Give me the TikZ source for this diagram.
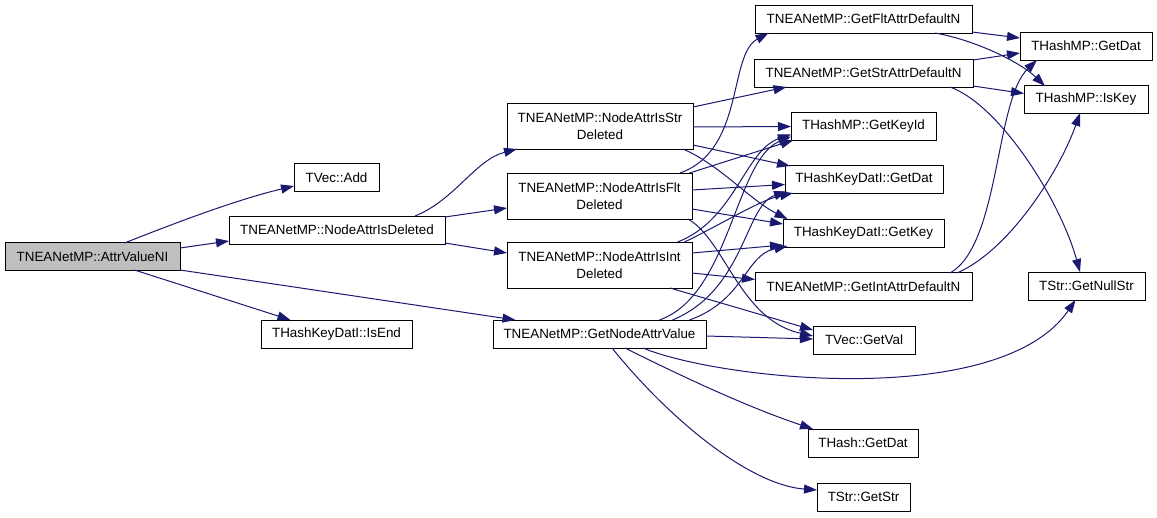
\documentclass[tikz,border=0pt]{standalone}
\usepackage{fontspec}
\setmainfont{Liberation Sans}
\usetikzlibrary{arrows.meta}
\definecolor{edgec}{HTML}{191970}
\definecolor{hl}{HTML}{BFBFBF}
\begin{document}
\begin{tikzpicture}[x=1pt,y=-1pt,
  box/.style={draw=black, line width=1pt, fill=white, inner sep=0pt, minimum height=28pt, font=\fontsize{13.4}{17}\selectfont, align=center},
  box2/.style={box, minimum height=46pt},
  edge/.style={draw=edgec, line width=1pt, -{Triangle[length=13pt,width=9pt]}}]
\useasboundingbox (0,0) rectangle (1157,517);
% nodes
\node[box, fill=hl, minimum width=175pt] (A) at (92.5,256.5) {TNEANetMP::AttrValueNI};
\node[box, minimum width=85pt] (Add) at (336.5,177.5) {TVec::Add};
\node[box, minimum width=216pt] (NAD) at (337,230) {TNEANetMP::NodeAttrIsDeleted};
\node[box, minimum width=151pt] (IsEnd) at (336.5,334) {THashKeyDatI::IsEnd};
\node[box2, minimum width=186pt] (Str) at (600,126) {TNEANetMP::NodeAttrIsStr\\Deleted};
\node[box2, minimum width=185pt] (Flt) at (599.5,196) {TNEANetMP::NodeAttrIsFlt\\Deleted};
\node[box2, minimum width=185pt] (Int) at (599.5,265) {TNEANetMP::NodeAttrIsInt\\Deleted};
\node[box, minimum width=213pt] (GNAV) at (599.5,334) {TNEANetMP::GetNodeAttrValue};
\node[box, minimum width=217pt] (FltDef) at (863.5,19) {TNEANetMP::GetFltAttrDefaultN};
\node[box, minimum width=219pt] (StrDef) at (863.5,73) {TNEANetMP::GetStrAttrDefaultN};
\node[box, minimum width=145pt] (KeyId) at (863.5,126.5) {THashMP::GetKeyId};
\node[box, minimum width=158pt] (HKDat) at (864,179.5) {THashKeyDatI::GetDat};
\node[box, minimum width=161pt] (HKKey) at (863.5,233) {THashKeyDatI::GetKey};
\node[box, minimum width=217pt] (IntDef) at (863.5,286.5) {TNEANetMP::GetIntAttrDefaultN};
\node[box, minimum width=102pt] (GetVal) at (864,340) {TVec::GetVal};
\node[box, minimum width=110pt] (HDat) at (863,443) {THash::GetDat};
\node[box, minimum width=93pt] (GetStr) at (863.5,497) {TStr::GetStr};
\node[box, minimum width=132pt] (HMPDat) at (1086,46) {THashMP::GetDat};
\node[box, minimum width=124pt] (IsKey) at (1086,99.5) {THashMP::IsKey};
\node[box, minimum width=117pt] (Null) at (1086.5,286) {TStr::GetNullStr};
% edges
\draw[edge] ([shift={(32,-13.5)}]A.center) .. controls (170,225) and (235,200) .. ([shift={(-42.5,8.5)}]Add.center);
\draw[edge] ([shift={(87.5,-8.5)}]A.center) -- ([shift={(-108,11)}]NAD.center);
\draw[edge] ([shift={(87.5,13.5)}]A.center) -- ([shift={(-84,-14)}]GNAV.center);
\draw[edge] ([shift={(42,13.5)}]A.center) -- ([shift={(-46,-14)}]IsEnd.center);
\draw[edge] ([shift={(78,-14)}]NAD.center) .. controls (455,200) and (475,160) .. ([shift={(-83,23)}]Str.center);
\draw[edge] ([shift={(108,-13)}]NAD.center) -- ([shift={(-92.5,12)}]Flt.center);
\draw[edge] ([shift={(108,13)}]NAD.center) -- ([shift={(-92.5,-12)}]Int.center);
% Str
\draw[edge] ([shift={(93,-19)}]Str.center) -- ([shift={(-77,14)}]StrDef.center);
\draw[edge] ([shift={(93,1)}]Str.center) -- ([shift={(-72.5,0)}]KeyId.center);
\draw[edge] ([shift={(93,19)}]Str.center) -- ([shift={(-74,-13.5)}]HKDat.center);
\draw[edge] ([shift={(83,23)}]Str.center) .. controls (720,165) and (750,200) .. ([shift={(-76,-14)}]HKKey.center);
% Flt
\draw[edge] ([shift={(80.5,-23)}]Flt.center) .. controls (745,150) and (728,55) .. ([shift={(-95,14)}]FltDef.center);
\draw[edge] ([shift={(90,-23)}]Flt.center) -- ([shift={(-70,13.5)}]KeyId.center);
\draw[edge] ([shift={(92.5,-6)}]Flt.center) -- ([shift={(-79,5)}]HKDat.center);
\draw[edge] ([shift={(92.5,13)}]Flt.center) -- ([shift={(-80.5,-9)}]HKKey.center);
\draw[edge] ([shift={(88.5,23)}]Flt.center) .. controls (725,240) and (740,320) .. ([shift={(-51,-4)}]GetVal.center);
% Int
\draw[edge] ([shift={(78,-23)}]Int.center) .. controls (735,220) and (745,150) .. ([shift={(-72.5,8)}]KeyId.center);
\draw[edge] ([shift={(85,-23)}]Int.center) .. controls (720,225) and (760,200) .. ([shift={(-71,13.5)}]HKDat.center);
\draw[edge] ([shift={(92.5,8)}]Int.center) -- ([shift={(-108.5,-7)}]IntDef.center);
\draw[edge] ([shift={(92.5,-12)}]Int.center) -- ([shift={(-80.5,12)}]HKKey.center);
\draw[edge] ([shift={(70.5,23)}]Int.center) -- ([shift={(-51,-10)}]GetVal.center);
% GNAV
\draw[edge] ([shift={(60,-14)}]GNAV.center) .. controls (730,295) and (735,160) .. ([shift={(-72.5,10)}]KeyId.center);
\draw[edge] ([shift={(73,-14)}]GNAV.center) .. controls (745,290) and (745,205) .. ([shift={(-77,12)}]HKDat.center);
\draw[edge] ([shift={(90,-14)}]GNAV.center) .. controls (745,300) and (745,255) .. ([shift={(-76,13)}]HKKey.center);
\draw[edge] ([shift={(106.5,2)}]GNAV.center) -- ([shift={(-51,-1)}]GetVal.center);
\draw[edge] ([shift={(43.5,14)}]GNAV.center) .. controls (720,380) and (1000,410) .. ([shift={(-11,14)}]Null.center);
\draw[edge] ([shift={(25.5,14)}]GNAV.center) .. controls (685,378) and (750,408) .. ([shift={(-50,-14)}]HDat.center);
\draw[edge] ([shift={(12.5,14)}]GNAV.center) .. controls (670,420) and (750,485) .. ([shift={(-46.5,-7)}]GetStr.center);
% defaults
\draw[edge] ([shift={(108.5,13)}]FltDef.center) -- ([shift={(-66,-8)}]HMPDat.center);
\draw[edge] ([shift={(71.5,14)}]FltDef.center) .. controls (975,40) and (1020,62) .. ([shift={(-41,-13.5)}]IsKey.center);
\draw[edge] ([shift={(109.5,-13)}]StrDef.center) -- ([shift={(-66,7)}]HMPDat.center);
\draw[edge] ([shift={(109.5,13)}]StrDef.center) -- ([shift={(-62,-6)}]IsKey.center);
\draw[edge] ([shift={(86.5,14)}]StrDef.center) .. controls (1000,105) and (1060,200) .. ([shift={(-6.5,-14)}]Null.center);
\draw[edge] ([shift={(86.5,-13.5)}]IntDef.center) .. controls (1000,245) and (995,100) .. ([shift={(-49,14)}]HMPDat.center);
\draw[edge] ([shift={(93.5,-13.5)}]IntDef.center) .. controls (1010,250) and (1060,170) .. ([shift={(-6,13.5)}]IsKey.center);
\end{tikzpicture}
\end{document}
